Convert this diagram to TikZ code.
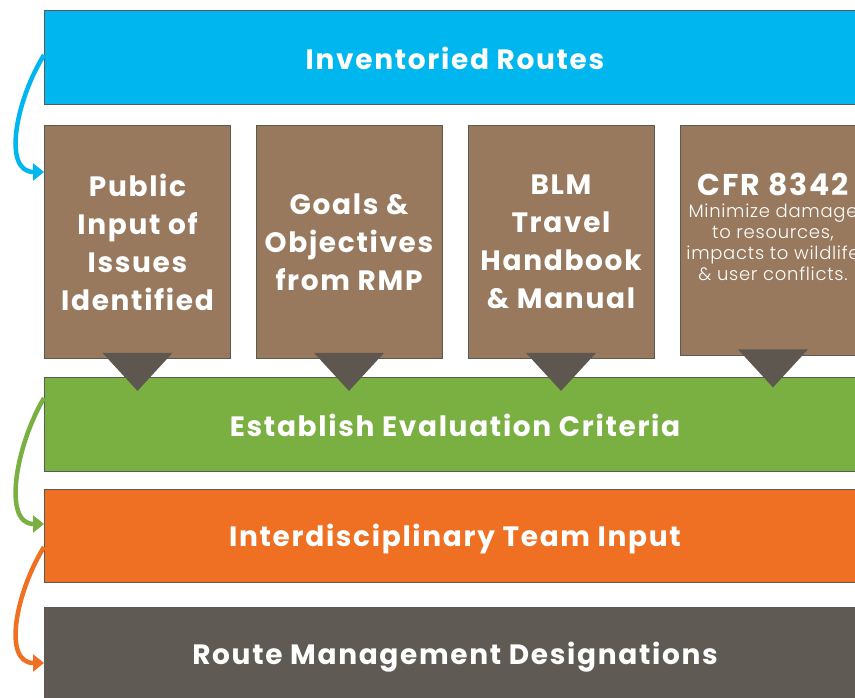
\documentclass[tikz,border=0pt]{standalone}
\usepackage{fontspec}
\setmainfont{Poppins}[LetterSpace=6]
\newfontfamily\lightfont{Poppins Light}[LetterSpace=4]
\usetikzlibrary{arrows.meta,calc}
\definecolor{blueC}{HTML}{00B6EE}
\definecolor{brownC}{HTML}{98795E}
\definecolor{greenC}{HTML}{7AAF42}
\definecolor{orangeC}{HTML}{F07023}
\definecolor{grayC}{HTML}{5F5A53}
\definecolor{triC}{HTML}{5E5750}
\definecolor{edgeC}{HTML}{5A5A50}
\begin{document}
\begin{tikzpicture}[x=1pt,y=-1pt,
  band/.style={draw=edgeC, line width=0.8pt, minimum width=822pt, minimum height=94pt, inner sep=0pt,
    text=white, font=\fontsize{28}{34}\selectfont\bfseries},
  brownbox/.style={draw=edgeC, line width=0.8pt, fill=brownC, minimum width=186pt, minimum height=233pt, inner sep=0pt,
    text=white, align=center, font=\fontsize{28}{38}\selectfont\bfseries},
  tri/.style={fill=triC},
  arr/.style={line width=4.5pt, -{Triangle[length=11pt,width=17pt]}}
]
\useasboundingbox (0,0) rectangle (855,698);
\clip (0,0) rectangle (855,698);
\fill[white] (0,0) rectangle (855,698);

\node[band, fill=blueC] (inv) at (455,57) {\raisebox{-1pt}[\height][\depth]{Inventoried Routes}};
\node[brownbox] (p1) at (137.5,242) {Public\\Input of\\Issues\\Identified};
\node[brownbox] (p2) at (349,242) {Goals \&\\Objectives\\from RMP};
\node[brownbox] (p3) at (561,242) {BLM\\Travel\\Handbook\\\& Manual};
\node[brownbox, minimum height=230pt] (p4) at (773,240) {};
\node[text=white, align=center, font=\fontsize{18}{21}\selectfont\lightfont] (cfr) at (773,227)
  {\fontsize{30}{30}\selectfont\bfseries\rmfamily CFR 8342\\[1pt]Minimize damage\\to resources,\\impacts to wildlife\\\& user conflicts.};

\node[band, fill=greenC] (est) at (455,424) {\raisebox{-1pt}[\height][\depth]{Establish Evaluation Criteria}};
\node[band, fill=orangeC, minimum height=93pt] (idt) at (455,535.5) {\raisebox{-4pt}[\height][\depth]{Interdisciplinary Team Input}};
\node[band, fill=grayC, minimum height=100pt] (rmd) at (455,657) {Route Management Designations};

\foreach \b in {p1,p2,p3,p4}{
  \fill[tri] ($(\b.south)+(-35,-6)$) -- ($(\b.south)+(35,-6)$) -- ($(\b.south)+(0,32)$) -- cycle;
}

\coordinate (a1s) at (44,55);
\coordinate (a1e) at (44,172);
\coordinate (a2s) at (44,398);
\coordinate (a2e) at (44,524);
\coordinate (a3s) at (44,547);
\coordinate (a3e) at (44,663);
\draw[arr, blueC] (a1s) .. controls (16,100) and (2,172) .. (a1e);
\draw[arr, greenC] (a2s) .. controls (16,445) and (2,524) .. (a2e);
\draw[arr, orangeC] (a3s) .. controls (16,592) and (2,663) .. (a3e);
\end{tikzpicture}
\end{document}
